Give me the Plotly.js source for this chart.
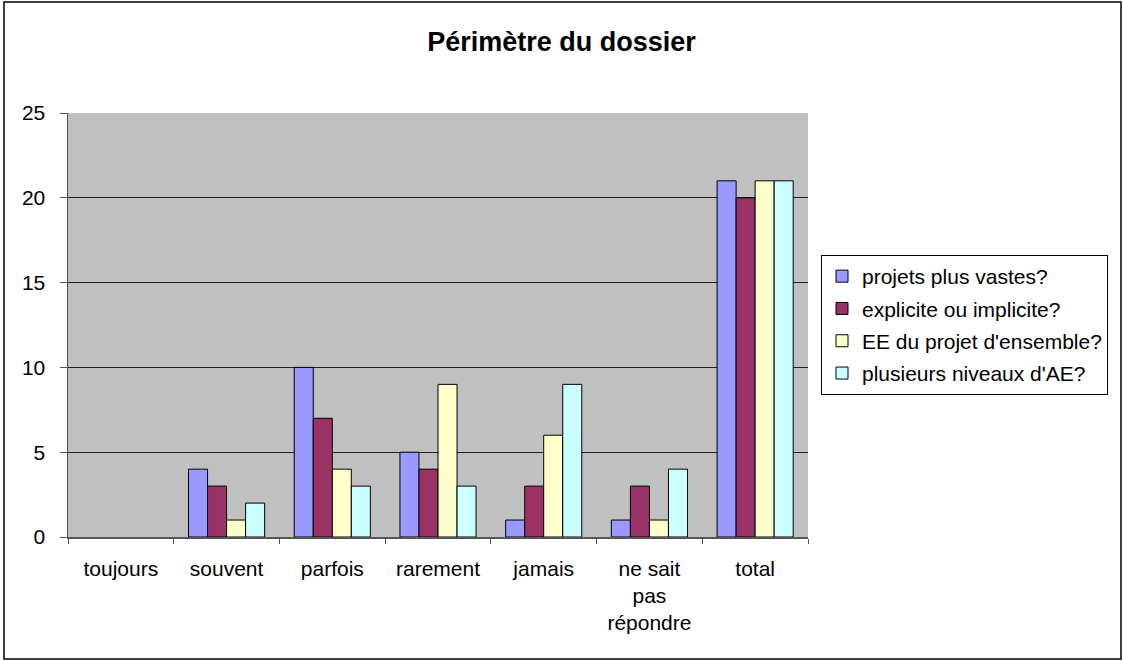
<!DOCTYPE html>
<html><head><meta charset="utf-8">
<script src="https://cdn.plot.ly/plotly-3.0.1.min.js"></script>
<style>body{margin:0;padding:0;background:#fff}#chart{width:1123px;height:661px}</style>
</head><body><div id="chart"></div>
<script>
const categories = ["toujours","souvent","parfois","rarement","jamais","ne sait<br>pas<br>répondre","total"];
const seriesNames = ["projets plus vastes?","explicite ou implicite?","EE du projet d'ensemble?","plusieurs niveaux d'AE?"];
const projetsPlusVastes = [0,4,10,5,1,1,21];
const expliciteOuImplicite = [0,3,7,4,3,3,20];
const eeProjetEnsemble = [0,1,4,9,6,1,21];
const plusieursNiveaux = [0,2,3,3,9,4,21];
const colors = ["#9999FF","#993366","#FFFFCC","#CCFFFF"];
const values = [projetsPlusVastes, expliciteOuImplicite, eeProjetEnsemble, plusieursNiveaux];

const traces = values.map((v,i)=>({
  type:"bar", x:categories, y:v.map(d=>d===0?null:d), name:seriesNames[i], legendgroup:"g"+i,
  marker:{color:colors[i], line:{color:"#000", width:1}}
}));

const L=68,R=808,T=113,B=537;
const px = x => (x-L)/(R-L), py = y => (B-y)/(B-T);
const layout = {
  width:1123, height:661,
  margin:{l:L, r:1123-R, t:T, b:661-B, pad:0},
  paper_bgcolor:"#fff", plot_bgcolor:"#C0C0C0",
  font:{family:"Liberation Sans, Arial, sans-serif", size:21, color:"#000"},
  title:{text:"<b>Périmètre du dossier</b>", font:{size:27, color:"#000"}, x:0.5, xref:"container", y:1-42/661, yref:"container", yanchor:"middle"},
  barmode:"group", bargap:0.28, bargroupgap:0,
  xaxis:{type:"category", tickson:"boundaries", ticks:"outside", ticklen:5, tickcolor:"#555",
    showline:true, linecolor:"#555", linewidth:1.5, showgrid:false, tickfont:{size:21}, ticklabelstandoff:12, automargin:false},
  yaxis:{range:[0,25], dtick:5, ticks:"outside", ticklen:7, tickcolor:"#555", showline:true, linecolor:"#555", linewidth:1.5,
    gridcolor:"#222", gridwidth:1, zeroline:false, tickfont:{size:21}, ticklabelstandoff:10, automargin:false},
  showlegend:true,
  legend:{x:px(821), y:py(255), xanchor:"left", yanchor:"top", bordercolor:"#000", borderwidth:1, bgcolor:"#fff",
    font:{size:21}, tracegroupgap:2, itemwidth:30, traceorder:"grouped"},
  shapes:[{type:"rect", xref:"paper", yref:"paper", x0:px(4), x1:px(1121), y0:py(659), y1:py(2), line:{color:"#000", width:1.5}, fillcolor:"rgba(0,0,0,0)", layer:"above"}]
};
Plotly.newPlot("chart", traces, layout, {displayModeBar:false, staticPlot:true});
</script></body></html>
